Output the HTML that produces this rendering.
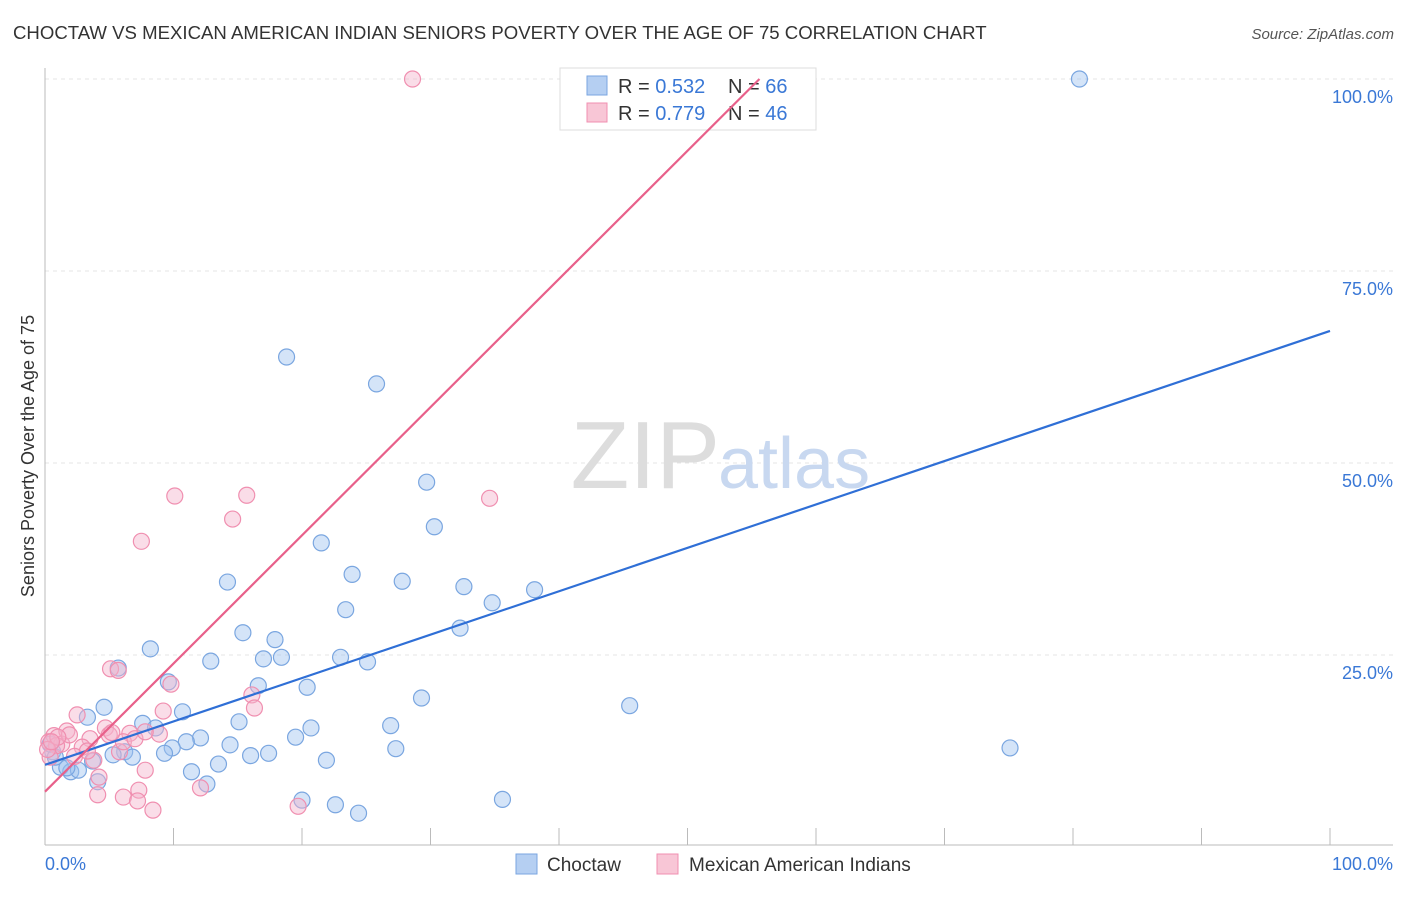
<!DOCTYPE html>
<html><head><meta charset="utf-8">
<style>
body{margin:0;background:#fff;font-family:"Liberation Sans",sans-serif;}
svg text{font-family:"Liberation Sans",sans-serif;}
</style></head>
<body>
<svg id="chart" width="1406" height="892" xmlns="http://www.w3.org/2000/svg">
<text x="13" y="39" font-size="18.6" fill="#333">CHOCTAW VS MEXICAN AMERICAN INDIAN SENIORS POVERTY OVER THE AGE OF 75 CORRELATION CHART</text>
<text x="1394" y="39" font-size="15" fill="#555" text-anchor="end" font-style="italic">Source: ZipAtlas.com</text>
<text transform="translate(34,456) rotate(-90)" font-size="18" fill="#333" text-anchor="middle">Seniors Poverty Over the Age of 75</text>
<g id="grid"></g>
<text x="720" y="488" font-size="96" text-anchor="end" fill="#ddd" font-family="Liberation Serif">ZIP</text>
<text x="718" y="488" font-size="72" fill="#c8d8f0">atlas</text>
<g>
<rect x="560" y="68" width="256" height="62" fill="#fff" stroke="#ddd"/>
<rect x="587" y="76" width="20" height="19" fill="#b5cff2" stroke="#7aa6e0"/>
<rect x="587" y="103" width="20" height="19" fill="#f8c6d6" stroke="#f08fb0"/>
<text x="618" y="93" font-size="20" fill="#333">R = <tspan fill="#3a78d6">0.532</tspan></text>
<text x="728" y="93" font-size="20" fill="#333">N = <tspan fill="#3a78d6">66</tspan></text>
<text x="618" y="120" font-size="20" fill="#333">R = <tspan fill="#3a78d6">0.779</tspan></text>
<text x="728" y="120" font-size="20" fill="#333">N = <tspan fill="#3a78d6">46</tspan></text>
</g>
<g id="marks"></g>
<g>
<rect x="516" y="854" width="21" height="20" fill="#b5cff2" stroke="#7aa6e0"/>
<text x="547" y="871" font-size="19" fill="#333">Choctaw</text>
<rect x="657" y="854" width="21" height="20" fill="#f8c6d6" stroke="#f08fb0"/>
<text x="689" y="871" font-size="19" fill="#333">Mexican American Indians</text>
</g>
</svg>
<script>
const xTickLabels=["0.0%","100.0%"];
const yTicks=[25,50,75,100];
const yTickLabels=["25.0%","50.0%","75.0%","100.0%"];
const blueLine=[10.7,67.2];
const pinkLine=[7.2,100,55.6];
const blueX=[80.5,18.8,25.8,29.7,30.3,21.5,23.9,14.2,27.8,32.6,38.1,23.4,34.8,32.3,15.4,17.9,8.2,12.9,17.0,18.4,23.0,25.1,5.7,9.6,16.6,20.4,29.3,45.5,4.6,10.7,3.3,7.6,15.1,8.6,26.9,20.7,12.1,11.0,9.9,19.5,14.4,75.1,27.3,0.6,6.2,9.3,5.3,6.8,16.0,17.4,21.9,13.5,3.7,1.2,2.0,2.6,1.7,11.4,12.6,4.1,20.0,22.6,24.4,35.6,0.8,0.4];
const blueY=[100,63.8,60.3,47.5,41.7,39.6,35.5,34.5,34.6,33.9,33.5,30.9,31.8,28.5,27.9,27.0,25.8,24.2,24.5,24.7,24.7,24.1,23.3,21.5,21.0,20.8,19.4,18.4,18.2,17.6,16.9,16.1,16.3,15.5,15.8,15.5,14.2,13.7,12.9,14.3,13.3,12.9,12.8,12.4,12.4,12.2,12.0,11.7,11.9,12.2,11.3,10.8,11.2,10.4,9.8,10.0,10.3,9.8,8.2,8.5,6.1,5.5,4.4,6.2,11.7,13.4];
const pinkX=[28.6,10.1,15.7,34.6,14.6,7.5,5.1,5.7,9.8,16.1,9.2,16.3,2.5,0.7,1.7,3.5,4.7,6.6,8.9,5.0,0.3,1.3,2.9,2.3,5.8,3.8,7.8,4.2,7.3,6.1,7.2,12.1,4.1,8.4,19.7,0.9,3.3,6.1,5.2,1.9,0.4,1.0,7.0,7.8,0.2,0.5];
const pinkY=[100,45.7,45.8,45.4,42.7,39.8,23.2,23.0,21.2,19.8,17.7,18.1,17.2,14.5,15.1,14.1,15.5,14.8,14.7,14.6,13.7,13.4,13.0,11.8,12.4,11.3,10.0,9.1,7.4,6.5,6.0,7.7,6.8,4.8,5.3,13.2,12.5,13.7,14.9,14.6,11.7,14.3,14.1,15.0,12.7,13.7];
const X0=45,X1=1330,Y0=847,YS=7.68;
const xs=v=>X0+v*(X1-X0)/100;
const ys=v=>Y0-v*YS;
const NS="http://www.w3.org/2000/svg";
function mk(tag,attrs,parent){const e=document.createElementNS(NS,tag);for(const k in attrs)e.setAttribute(k,attrs[k]);parent.appendChild(e);return e;}
const grid=document.getElementById('grid');
yTicks.forEach((t,i)=>{
 const l=mk('line',{x1:45,x2:1393,y1:ys(t),y2:ys(t),stroke:'#e4e4e4','stroke-dasharray':'4,4'},grid);
 
 
 const tx=mk('text',{x:1393,y:ys(t)+24,'font-size':18,fill:'#3a78d6','text-anchor':'end'},grid);
 tx.textContent=yTickLabels[i];
 
 
});
const ax=mk('line',{x1:45,x2:45,y1:68,y2:845,stroke:'#bbb'},grid);


const bx=mk('line',{x1:45,x2:1393,y1:845,y2:845,stroke:'#bbb'},grid);


for(let i=0;i<=10;i++){
 const t=mk('line',{x1:xs(i*10),x2:xs(i*10),y1:828,y2:845,stroke:'#bbb'},grid);
 
 
}
[[0,'start',45],[1,'end',1393]].forEach(([i,a,x])=>{
 const t=mk('text',{x:x,y:870,'font-size':18,fill:'#3a78d6','text-anchor':a},grid);
 t.textContent=xTickLabels[i];
 
 
});
const marks=document.getElementById('marks');
blueX.forEach((v,i)=>{
 const c=mk('circle',{cx:xs(v),cy:ys(blueY[i]),r:8,fill:'rgba(160,195,240,0.45)',stroke:'#7aa6e0','stroke-width':1.2},marks);
 
 
});
pinkX.forEach((v,i)=>{
 const c=mk('circle',{cx:xs(v),cy:ys(pinkY[i]),r:8,fill:'rgba(245,180,205,0.45)',stroke:'#f08fb0','stroke-width':1.2},marks);
 
 
});
const bl=mk('line',{x1:xs(0),y1:ys(blueLine[0]),x2:xs(100),y2:ys(blueLine[1]),stroke:'#2f6fd6','stroke-width':2.2},marks);


const pl=mk('line',{x1:xs(0),y1:ys(pinkLine[0]),x2:xs(pinkLine[2]),y2:ys(pinkLine[1]),stroke:'#e8608a','stroke-width':2.2},marks);


</script>
</body></html>
